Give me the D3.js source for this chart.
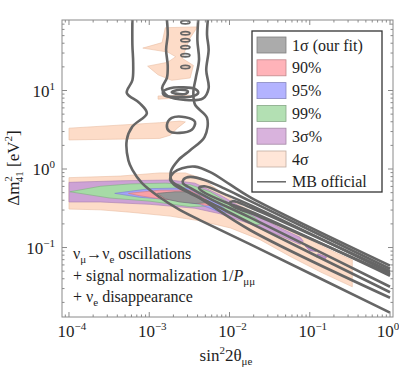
<!DOCTYPE html>
<html>

<head>
    <meta charset="UTF-8">
    <script src="https://d3js.org/d3.v7.min.js"></script>
    <style>
        body {
            margin: 0;
            background-color: #fff;
        }

        svg text {
            font-family: "Liberation Serif", "DejaVu Serif", serif;
            fill: #1e1e1e;
        }
    </style>
</head>

<body>
    <svg id="chart" width="399" height="368" font-family="Liberation Serif"></svg>
    <script>
        // every point is [log10(sin^2 2theta), log10(dm^2)]
        var fill4sigma = [[-4.00, -0.11], [-3.36, -0.09], [-2.87, -0.05], [-2.55, -0.05], [-2.37, -0.11], [-2.18, -0.24],
            [-1.87, -0.46], [-1.50, -0.65], [-1.12, -0.84], [-0.75, -1.03], [-0.47, -1.16], [-0.47, -1.50],
            [-0.87, -1.31], [-1.25, -1.11], [-1.62, -0.90], [-1.99, -0.75], [-2.37, -0.66], [-2.74, -0.60],
            [-3.24, -0.55], [-3.61, -0.52], [-4.00, -0.51]];
        var strip4sigma = [[-4.00, 0.52], [-2.87, 0.59], [-2.62, 0.61], [-2.55, 0.60], [-2.65, 0.52], [-2.74, 0.43],
            [-2.87, 0.39], [-4.00, 0.37]];
        var thin4sigma = [[-2.89, 0.93], [-2.50, 0.94], [-2.52, 0.91], [-2.89, 0.89]];
        var top4sigma = [[-2.80, 1.80], [-2.40, 1.81], [-2.49, 1.67], [-2.55, 1.52], [-2.59, 1.41], [-2.45, 1.32],
            [-2.49, 1.16], [-2.72, 1.13], [-2.89, 1.20], [-3.02, 1.31], [-2.77, 1.36], [-2.67, 1.43],
            [-2.77, 1.49], [-3.08, 1.54], [-2.84, 1.61]];
        var fill3sigma = [[-4.00, -0.17], [-3.36, -0.15], [-2.74, -0.14], [-2.43, -0.18], [-2.12, -0.33], [-1.74, -0.55],
            [-1.37, -0.75], [-1.12, -0.87], [-1.08, -0.92], [-1.12, -0.96], [-1.37, -0.85], [-1.74, -0.70],
            [-2.12, -0.57], [-2.43, -0.50], [-2.99, -0.45], [-3.61, -0.42], [-4.00, -0.42]];
        var spots3sigma = [
            [[-1.06, -0.98], [-0.99, -1.00], [-0.92, -1.05], [-1.00, -1.04]],
            [[-0.90, -1.08], [-0.79, -1.12], [-0.81, -1.15], [-0.92, -1.12]]
        ];
        var fill99 = [[-3.99, -0.29], [-3.61, -0.22], [-3.24, -0.19], [-2.80, -0.18], [-2.49, -0.20], [-2.24, -0.29],
            [-1.93, -0.48], [-1.68, -0.62], [-1.60, -0.70], [-1.68, -0.71], [-1.93, -0.60], [-2.24, -0.47],
            [-2.49, -0.48], [-2.99, -0.41], [-3.49, -0.37]];
        var fill95 = [[-3.43, -0.31], [-2.99, -0.25], [-2.49, -0.24], [-2.31, -0.33], [-2.09, -0.48], [-2.02, -0.55],
            [-2.12, -0.55], [-2.37, -0.45], [-2.74, -0.39], [-3.12, -0.36]];
        var fill90 = [[-3.26, -0.31], [-2.87, -0.27], [-2.49, -0.27], [-2.31, -0.37], [-2.18, -0.47], [-2.31, -0.46],
            [-2.49, -0.41], [-2.87, -0.38], [-3.12, -0.34]];
        var fill1sigma = [[-2.90, -0.31], [-2.68, -0.29], [-2.49, -0.29], [-2.37, -0.34], [-2.27, -0.43], [-2.43, -0.44],
            [-2.62, -0.42], [-2.80, -0.38]];

        // MiniBooNE official contours
        var mbOuter = [[-3.21, 1.90], [-3.21, 1.58], [-3.20, 1.35], [-3.21, 1.13], [-3.28, 0.97], [-3.12, 0.84],
            [-3.03, 0.71], [-3.21, 0.54], [-3.28, 0.37], [-3.26, 0.11], [-3.21, -0.01], [-3.09, -0.18],
            [-2.87, -0.36], [-2.62, -0.52], [-2.37, -0.65], [-1.74, -0.96], [0.00, -1.83]];
        var mbSecond = [[-2.39, 1.90], [-2.40, 1.64], [-2.38, 1.39], [-2.42, 1.16], [-2.45, 0.98], [-2.43, 0.82],
            [-2.28, 0.65], [-2.31, 0.41], [-2.49, 0.24], [-2.64, 0.11], [-2.73, -0.03], [-2.72, -0.15],
            [-2.59, -0.24], [-2.37, -0.37], [-1.74, -0.78], [0.00, -1.64]];
        var mbTopU = [[-2.78, 1.90], [-2.77, 1.71], [-2.79, 1.52], [-2.77, 1.32], [-2.78, 1.16], [-2.84, 1.03],
            [-2.77, 0.93], [-2.55, 0.88], [-2.33, 0.90], [-2.26, 1.03], [-2.29, 1.26], [-2.26, 1.52],
            [-2.28, 1.71], [-2.27, 1.90]];
        var mbTongue1 = [[0.00, -1.23], [-1.74, -0.36], [-1.99, -0.20], [-2.24, -0.04], [-2.43, 0.03], [-2.59, 0.01],
            [-2.69, -0.04], [-2.74, -0.13], [-2.69, -0.20], [-2.49, -0.31], [-2.24, -0.43], [-1.74, -0.69], [0.00, -1.57]];
        var mbTongue2 = [[0.00, -1.27], [-1.74, -0.41], [-2.06, -0.25], [-2.31, -0.14], [-2.49, -0.10], [-2.57, -0.13],
            [-2.58, -0.18], [-2.49, -0.24], [-2.24, -0.38], [-1.74, -0.62], [0.00, -1.50]];
        var mbTongue3 = [[0.00, -1.32], [-1.74, -0.46], [-2.06, -0.32], [-2.31, -0.22], [-2.38, -0.24], [-2.33, -0.29],
            [-2.06, -0.42], [-1.74, -0.54], [0.00, -1.36]];
        var mbTongue4 = [[0.00, -1.30], [-1.74, -0.49], [-1.96, -0.41], [-2.00, -0.44], [-1.86, -0.52], [-1.74, -0.56],
            [0.00, -1.34]];
        var mbRings = [
            [[-2.83, 0.98], [-2.74, 1.03], [-2.59, 1.04], [-2.43, 1.02], [-2.39, 0.97], [-2.49, 0.92], [-2.68, 0.92], [-2.80, 0.93]],
            [[-2.72, 0.98], [-2.62, 1.01], [-2.52, 0.99], [-2.54, 0.96], [-2.67, 0.96]],
            [[-2.78, 0.56], [-2.72, 0.65], [-2.55, 0.66], [-2.43, 0.60], [-2.47, 0.50], [-2.62, 0.46], [-2.75, 0.48]]
        ];
        var mbDashes = [[-2.55, 1.87], [-2.55, 1.73], [-2.55, 1.64], [-2.55, 1.55], [-2.55, 1.45], [-2.55, 1.30]];

        var xTicks = [1e-4, 1e-3, 1e-2, 1e-1, 1];
        var xTickExp = ["−4", "−3", "−2", "−1", "0"];
        var yTicks = [1e-1, 1, 10];
        var yTickExp = ["−1", "0", "1"];
        var legendLabels = ["1σ (our fit)", "90%", "95%", "99%", "3σ%", "4σ", "MB official"];
        var legendColors = ["#ababab", "#ffb3b9", "#b3b3ff", "#b3e0b3", "#d9b3dd", "#ffe6d8"];

        // plot box (note: "top" is reserved on window, so use prefixed names)
        var plotL = 62, plotR = 393, plotT = 20, plotB = 317;
        var svg = d3.select("#chart");

        var x = d3.scaleLog().domain([Math.pow(10, -4.087), Math.pow(10, 0.037)]).range([plotL, plotR]);
        var y = d3.scaleLog().domain([Math.pow(10, -1.885), Math.pow(10, 1.898)]).range([plotB, plotT]);

        function px(p) { return x(Math.pow(10, p[0])); }
        function py(p) { return y(Math.pow(10, p[1])); }

        var area = d3.line().x(px).y(py).curve(d3.curveLinearClosed);
        var curve = d3.line().x(px).y(py).curve(d3.curveCatmullRom.alpha(0.5));
        var ring = d3.line().x(px).y(py).curve(d3.curveCatmullRomClosed.alpha(0.5));

        svg.append("clipPath").attr("id", "clip")
            .append("rect").attr("x", plotL).attr("y", plotT).attr("width", plotR - plotL).attr("height", plotB - plotT);

        var g = svg.append("g").attr("clip-path", "url(#clip)");

        // filled regions, outermost first
        function region(pts, fill, stroke) {
            g.append("path").attr("d", area(pts))
                .attr("fill", fill).attr("stroke", stroke).attr("stroke-width", 0.6);
        }
        region(fill4sigma, "#fddcc8", "#e9bda3");
        region(strip4sigma, "#fddcc8", "#e9bda3");
        region(thin4sigma, "#fddcc8", "#e9bda3");
        region(top4sigma, "#fddcc8", "#e9bda3");
        region(fill3sigma, "#cda2d5", "#a780b0");
        spots3sigma.forEach(function (s) { region(s, "#b98fcb", "#9a72a8"); });
        region(fill99, "#a6dba6", "#7fb07f");
        region(fill95, "#a3a3f7", "#7c7cd2");
        region(fill90, "#f9a0a6", "#d47c82");
        region(fill1sigma, "#959595", "#6b6b6b");

        // MB official lines
        var lineColor = "#666";
        [mbOuter, mbSecond, mbTopU, mbTongue1, mbTongue2, mbTongue3, mbTongue4].forEach(function (l) {
            g.append("path").attr("d", curve(l))
                .attr("fill", "none").attr("stroke", lineColor).attr("stroke-width", 2.6)
                .attr("stroke-linejoin", "round");
        });
        mbRings.forEach(function (r) {
            g.append("path").attr("d", ring(r))
                .attr("fill", "none").attr("stroke", lineColor).attr("stroke-width", 2.6);
        });
        g.selectAll(".dash").data(mbDashes).enter().append("ellipse")
            .attr("cx", px).attr("cy", py).attr("rx", 4.5).attr("ry", 1.6)
            .attr("fill", "none").attr("stroke", lineColor).attr("stroke-width", 1.8);

        // frame and ticks
        var frame = svg.append("g").attr("stroke", "#8a8a8a").attr("stroke-width", 1);
        frame.append("rect").attr("x", plotL).attr("y", plotT).attr("width", plotR - plotL).attr("height", plotB - plotT)
            .attr("fill", "none");

        var xMinor = [], yMinor = [];
        for (var e = -5; e <= 1; e++) {
            for (var k = 1; k <= 9; k++) {
                var v = k * Math.pow(10, e);
                if (v >= x.domain()[0] && v <= x.domain()[1]) xMinor.push({ v: v, major: k == 1 });
                if (v >= y.domain()[0] && v <= y.domain()[1]) yMinor.push({ v: v, major: k == 1 });
            }
        }
        xMinor.forEach(function (t) {
            var len = t.major ? 5 : 2.5;
            frame.append("line").attr("x1", x(t.v)).attr("x2", x(t.v)).attr("y1", plotB).attr("y2", plotB - len);
            frame.append("line").attr("x1", x(t.v)).attr("x2", x(t.v)).attr("y1", plotT).attr("y2", plotT + len);
        });
        yMinor.forEach(function (t) {
            var len = t.major ? 5 : 2.5;
            frame.append("line").attr("y1", y(t.v)).attr("y2", y(t.v)).attr("x1", plotL).attr("x2", plotL + len);
            frame.append("line").attr("y1", y(t.v)).attr("y2", y(t.v)).attr("x1", plotR).attr("x2", plotR - len);
        });

        // tick labels
        xTicks.forEach(function (t, i) {
            var tx = svg.append("text").attr("x", Math.min(x(t) + 3, 388)).attr("y", 337)
                .attr("text-anchor", "middle").style("font-size", "17px");
            tx.append("tspan").text("10");
            tx.append("tspan").attr("dy", -7).style("font-size", "11px").text(xTickExp[i]);
        });
        yTicks.forEach(function (t, i) {
            var ty = svg.append("text").attr("x", 55).attr("y", y(t) + 6)
                .attr("text-anchor", "end").style("font-size", "17px");
            ty.append("tspan").text("10");
            ty.append("tspan").attr("dy", -7).style("font-size", "11px").text(yTickExp[i]);
        });

        // axis titles
        var xt = svg.append("text").attr("x", 226).attr("y", 361).attr("text-anchor", "middle").style("font-size", "17px");
        xt.append("tspan").text("sin");
        xt.append("tspan").attr("dy", -7).style("font-size", "11px").text("2");
        xt.append("tspan").attr("dy", 7).text("2θ");
        xt.append("tspan").attr("dy", 4).style("font-size", "11px").text("μe");

        var yt = svg.append("text").attr("transform", "translate(19,168) rotate(-90)")
            .attr("text-anchor", "middle").style("font-size", "17px");
        yt.append("tspan").text("Δm");
        yt.append("tspan").attr("dy", -7).style("font-size", "11px").text("2");
        yt.append("tspan").attr("dx", -6).attr("dy", 11).style("font-size", "11px").text("41");
        yt.append("tspan").attr("dy", -4).text(" [eV");
        yt.append("tspan").attr("dy", -7).style("font-size", "11px").text("2");
        yt.append("tspan").attr("dy", 7).text("]");

        // annotation
        var a1 = svg.append("text").attr("x", 73).attr("y", 259).style("font-size", "16px");
        a1.append("tspan").text("ν");
        a1.append("tspan").attr("dy", 4).style("font-size", "11px").text("μ");
        a1.append("tspan").attr("dy", -4).text("→ν");
        a1.append("tspan").attr("dy", 4).style("font-size", "11px").text("e");
        a1.append("tspan").attr("dy", -4).text(" oscillations");

        var a2 = svg.append("text").attr("x", 73).attr("y", 281).style("font-size", "16px");
        a2.append("tspan").text("+ signal normalization 1/");
        a2.append("tspan").style("font-style", "italic").text("P");
        a2.append("tspan").attr("dy", 4).style("font-size", "11px").text("μμ");

        var a3 = svg.append("text").attr("x", 73).attr("y", 302).style("font-size", "16px");
        a3.append("tspan").text("+ ν");
        a3.append("tspan").attr("dy", 4).style("font-size", "11px").text("e");
        a3.append("tspan").attr("dy", -4).text(" disappearance");

        // legend
        var leg = svg.append("g");
        leg.append("rect").attr("x", 252).attr("y", 31).attr("width", 130).attr("height", 161)
            .attr("fill", "#fff").attr("stroke", "#333").attr("stroke-width", 1.3);
        legendLabels.forEach(function (lab, i) {
            var cy = 45 + i * 22.8;
            if (i < legendColors.length) {
                leg.append("rect").attr("x", 257).attr("y", cy - 8).attr("width", 29).attr("height", 16)
                    .attr("fill", legendColors[i])
                    .attr("stroke", d3.color(legendColors[i]).darker(0.8)).attr("stroke-width", 0.8);
            } else {
                leg.append("line").attr("x1", 257).attr("x2", 286).attr("y1", cy).attr("y2", cy)
                    .attr("stroke", lineColor).attr("stroke-width", 1.5);
            }
            leg.append("text").attr("x", 292).attr("y", cy + 5.5).style("font-size", "16px").text(lab);
        });
    </script>
</body>

</html>
